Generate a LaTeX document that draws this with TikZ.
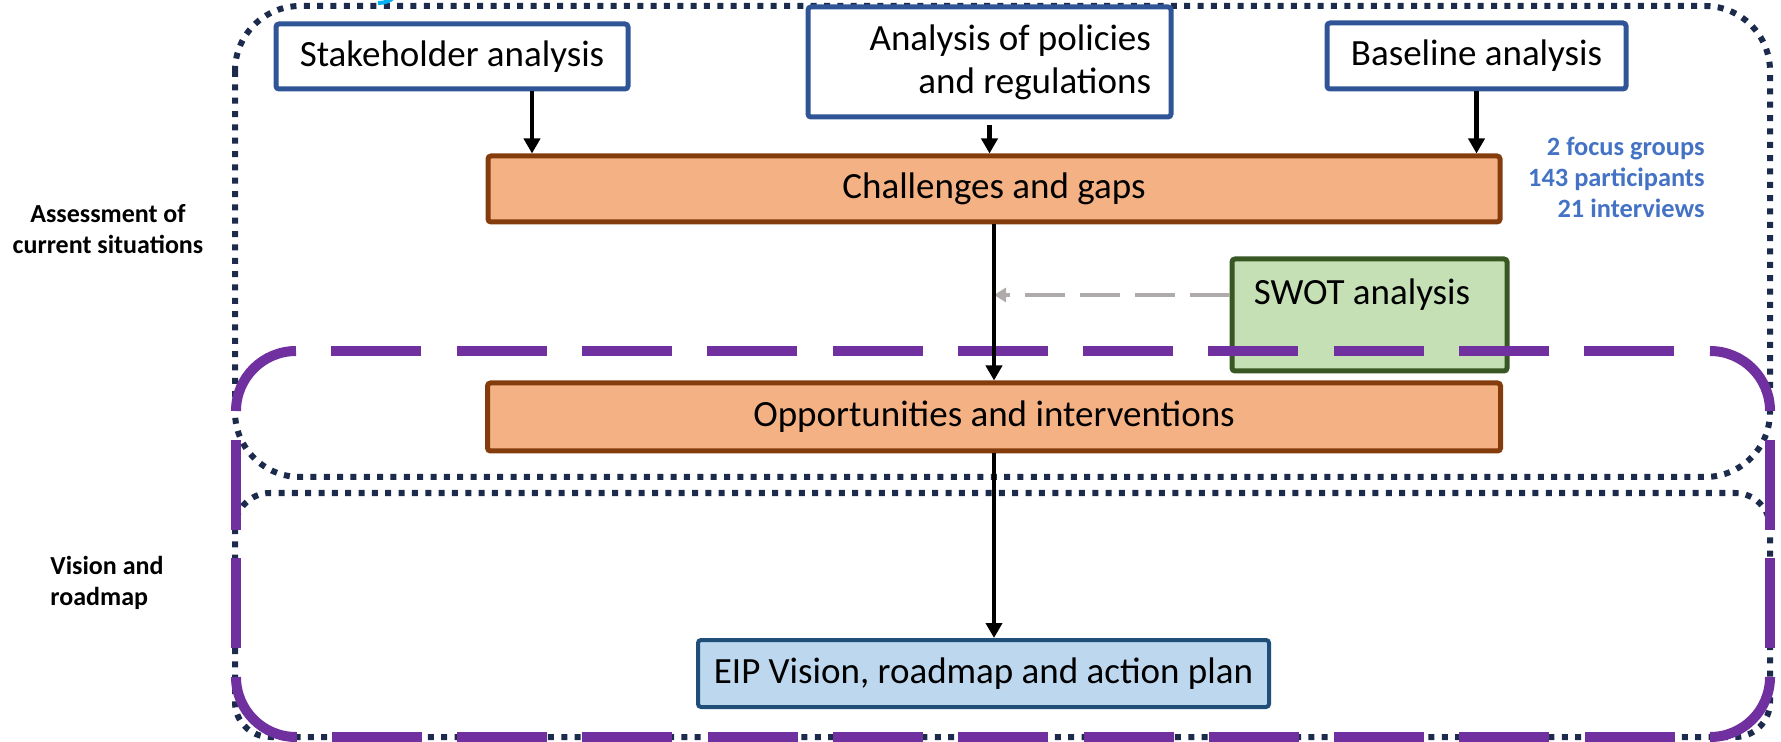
\documentclass[tikz,border=0pt]{standalone}
\usepackage{fontspec}
\setmainfont{Carlito}
\usetikzlibrary{arrows.meta,calc}
\definecolor{navy}{HTML}{1C2B4C}
\definecolor{boxblue}{HTML}{2F5597}
\definecolor{chfill}{HTML}{F4B183}
\definecolor{chdraw}{HTML}{843C0C}
\definecolor{swfill}{HTML}{C5E0B4}
\definecolor{swdraw}{HTML}{385723}
\definecolor{eipfill}{HTML}{BDD7EE}
\definecolor{eipdraw}{HTML}{1F4E79}
\definecolor{purp}{HTML}{7030A0}
\definecolor{arrgray}{HTML}{AFABAB}
\definecolor{txtblue}{HTML}{4472C4}
\definecolor{cyanmark}{HTML}{00B0F0}
\begin{document}
\begin{tikzpicture}[x=0.5pt,y=-0.5pt,
  mainfont/.style={font=\fontsize{18.5}{21.5}\selectfont},
  inputbox/.style={draw=boxblue, line width=2.5pt, fill=white, rounded corners=1.5pt, inner sep=0pt, mainfont},
  orangebox/.style={draw=chdraw, fill=chfill, line width=2.5pt, rounded corners=1.5pt, inner sep=0pt, mainfont},
  swotbox/.style={draw=swdraw, fill=swfill, line width=2.5pt, rounded corners=1.5pt, inner sep=0pt},
  eipbox/.style={draw=eipdraw, fill=eipfill, line width=2pt, rounded corners=1.5pt, inner sep=0pt, mainfont},
  dotbox/.style={draw=navy, line width=3pt, dash pattern=on 3pt off 3.67pt},
  purparc/.style={draw=purp, line width=5pt, rounded corners=30pt},
  purpside/.style={draw=purp, line width=5pt, dash pattern=on 45pt off #1, dash phase=45pt},
  arr/.style={line width=2.3pt, -{Triangle[width=8pt,length=7.5pt]}},
  grayarr/.style={draw=arrgray, line width=2pt, dash pattern=on 20pt off 7.5pt, -{Triangle[width=7pt,length=6pt]}},
  sidelabel/.style={font=\fontsize{13}{15.5}\selectfont\bfseries, inner sep=0pt},
  bluetext/.style={font=\fontsize{13.2}{15.5}\selectfont\bfseries, text=txtblue, inner sep=0pt}
]
\useasboundingbox (0,0) rectangle (1781,742);

% dotted frames
\draw[dotbox, rounded corners=32.5pt] (235,6) rectangle (1770,477);
\draw[dotbox, rounded corners=17.5pt] (235,493) rectangle (1770,737);

% small cyan mark at top edge
\draw[cyanmark, line width=2pt] (378,3) .. controls (385,3) and (390,1) .. (394,-3);

% nodes
\node[inputbox, minimum width=176pt, minimum height=32.5pt] (stake) at (452,56.5) {Stakeholder analysis};
\node[inputbox, minimum width=181.5pt, minimum height=55pt, text width=161.5pt, inner xsep=10pt, align=flush right] (policy) at (989.5,62) {Analysis of policies\\and regulations};
\node[inputbox, minimum width=149.5pt, minimum height=33pt] (base) at (1476.5,56) {Baseline analysis};
\node[orangebox, minimum width=506pt, minimum height=33pt] (chal) at (994,189) {Challenges and gaps};
\node[swotbox, minimum width=137.5pt, minimum height=56pt] (swot) at (1369.5,315) {};
\node[mainfont, inner sep=0pt] (swottxt) at (1362,295) {SWOT analysis};
\node[orangebox, minimum width=506.5pt, minimum height=34pt] (opp) at (994,417) {Opportunities and interventions};
\node[eipbox, minimum width=285.5pt, minimum height=33.5pt] (eip) at (983.5,673.5) {EIP Vision, roadmap and action plan};

% side labels
\node[sidelabel, align=center] (assess) at (108,229) {Assessment of\\current situations};
\node[sidelabel, align=left, anchor=west] (vision) at (50,583) {Vision and\\roadmap};
\node[bluetext, align=right, anchor=east] (stats) at (1705,177) {2 focus groups\\143 participants\\21 interviews};

% purple dashed frame: solid corner arcs, dashed sides
\draw[purparc] (236,411) -- (236,351) -- (296,351);
\draw[purparc] (1710,351) -- (1770,351) -- (1770,411);
\draw[purparc] (1770,677) -- (1770,737) -- (1710,737);
\draw[purparc] (296,737) -- (236,737) -- (236,677);
\draw[purpside=17.65pt] (296,351) -- (1710,351);
\draw[purpside=17.65pt] (1710,737) -- (296,737);
\draw[purpside=14.35pt] (1770,411) -- (1770,677);
\draw[purpside=14.35pt] (236,677) -- (236,411);

% connectors
\coordinate (s1) at ([xshift=40pt]stake.south);
\draw[arr] (s1) -- (s1 |- chal.north);
\draw[arr, shorten <=3pt] (policy.south) -- (policy.south |- chal.north);
\draw[arr] (base.south) -- (base.south |- chal.north);
\draw[grayarr] (swot.west |- swottxt.center) -- (chal.south |- swottxt.center);
\draw[arr] (chal.south) -- (opp.north);
\draw[arr] (opp.south) -- (opp.south |- eip.north);
\end{tikzpicture}
\end{document}
